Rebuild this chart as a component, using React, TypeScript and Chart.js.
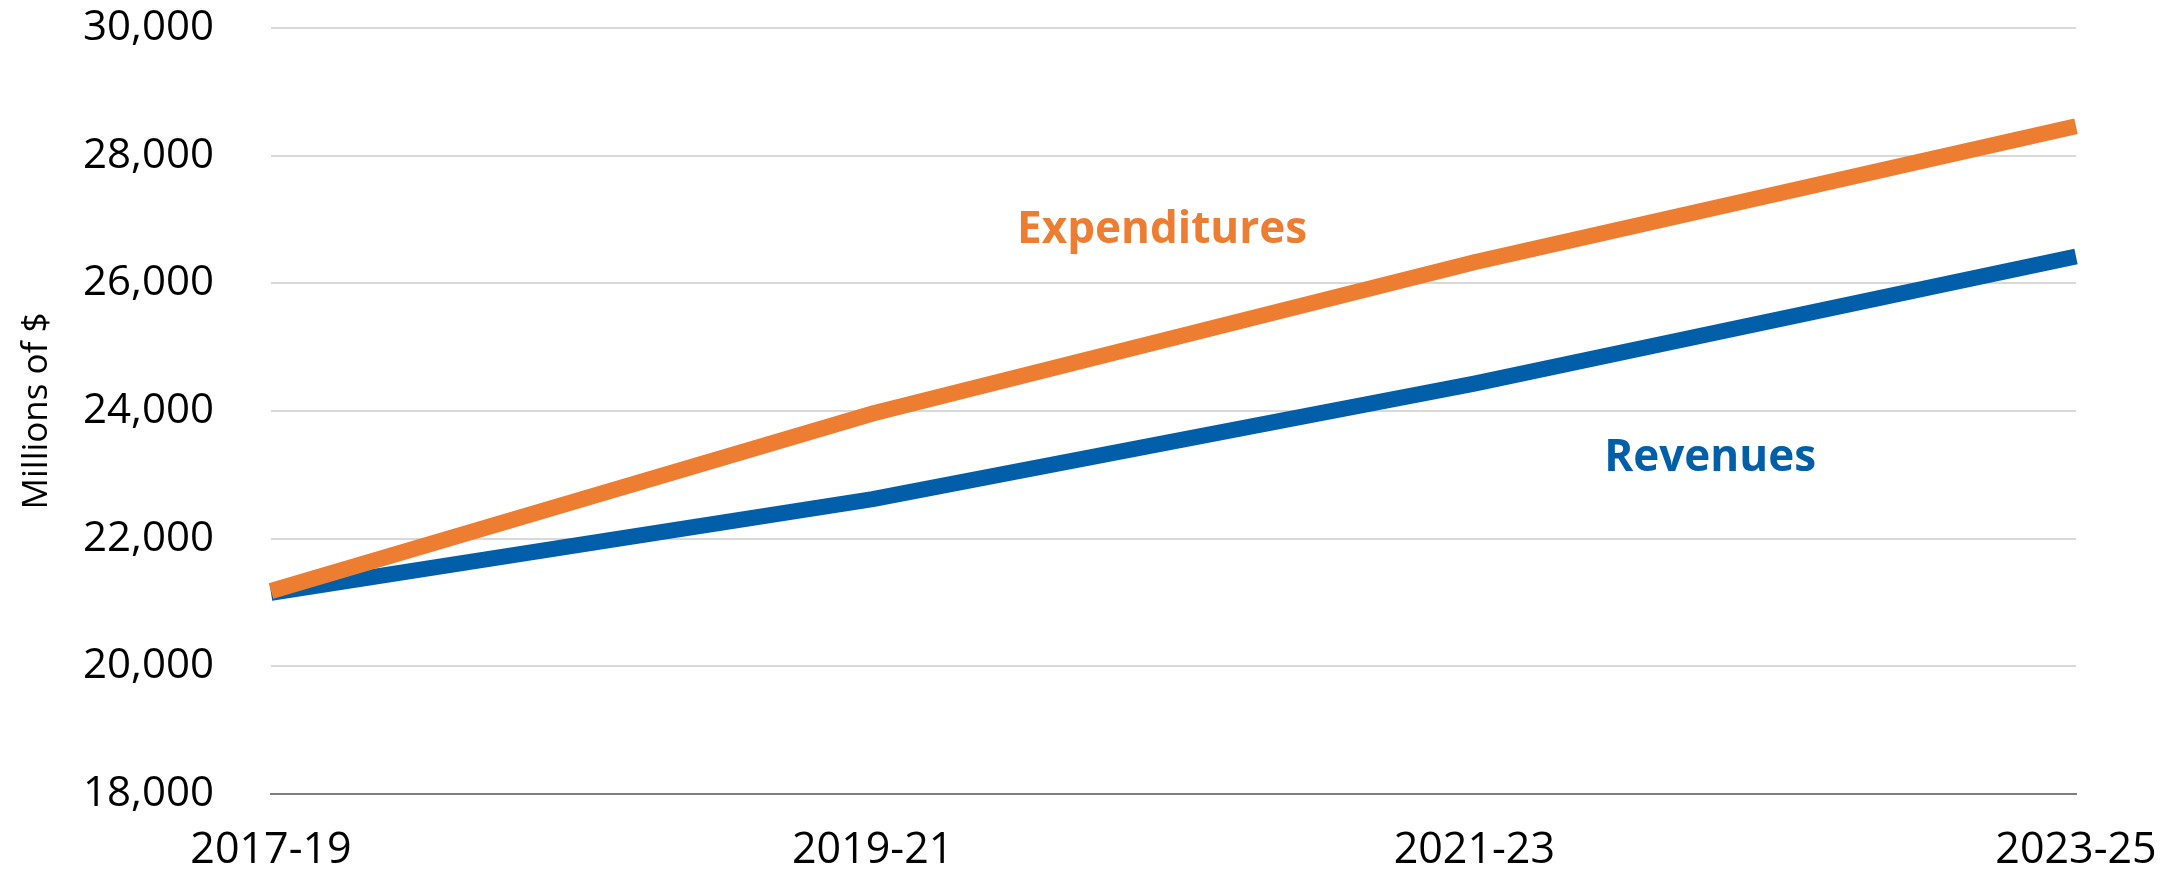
import React, { useEffect, useRef } from "react";
import { Chart, registerables } from "chart.js";

Chart.register(...registerables);

const categories = ["2017-19", "2019-21", "2021-23", "2023-25"];
const expenditures = [21180, 23960, 26330, 28460];
const revenues = [21150, 22620, 24430, 26420];
const yTicks = [18000, 20000, 22000, 24000, 26000, 28000, 30000];

const seriesLabels = [
  { text: "Expenditures", xIndex: 1.481, yValue: 26627, color: "#ED7D31" },
  { text: "Revenues", xIndex: 2.392, yValue: 23067, color: "#005FA8" },
];

const FONT = "'Open Sans', 'Noto Sans', sans-serif";

const labelPlugin = {
  id: "seriesLabels",
  afterDatasetsDraw(chart: any) {
    const { ctx, scales } = chart;
    ctx.save();
    ctx.font = `bold 44px ${FONT}`;
    ctx.textAlign = "center";
    ctx.textBaseline = "alphabetic";
    for (const l of seriesLabels) {
      ctx.fillStyle = l.color;
      ctx.fillText(l.text, scales.x.getPixelForValue(l.xIndex), scales.y.getPixelForValue(l.yValue));
    }
    ctx.restore();
  },
};

export default function App() {
  const ref = useRef<HTMLCanvasElement | null>(null);
  useEffect(() => {
    document.body.style.margin = "0";
    const chart = new Chart(ref.current as HTMLCanvasElement, {
      type: "line",
      data: {
        labels: categories,
        datasets: [
          {
            label: "Expenditures",
            data: expenditures,
            borderColor: "#ED7D31",
            backgroundColor: "#ED7D31",
            borderWidth: 16,
            pointRadius: 0,
            tension: 0,
          },
          {
            label: "Revenues",
            data: revenues,
            borderColor: "#005FA8",
            backgroundColor: "#005FA8",
            borderWidth: 16,
            pointRadius: 0,
            tension: 0,
          },
        ],
      },
      options: {
        animation: false,
        responsive: false,
        devicePixelRatio: 1,
        layout: { padding: { left: 0, right: 107, top: 28, bottom: 0 } },
        plugins: { legend: { display: false }, tooltip: { enabled: false } },
        scales: {
          x: {
            type: "category",
            offset: false,
            grid: { display: false, drawTicks: false },
            border: { display: true, color: "#7F7F7F", width: 2 },
            ticks: {
              color: "#000",
              font: { family: FONT, size: 43 },
              padding: 31,
              maxRotation: 0,
              autoSkip: false,
            },
            afterFit(scale: any) {
              scale.height = 80;
              scale.paddingLeft = 0;
              scale.paddingRight = 0;
            },
          },
          y: {
            min: 18000,
            max: 30000,
            afterBuildTicks(scale: any) {
              scale.ticks = yTicks.map((v) => ({ value: v }));
            },
            grid: { color: "#D9D9D9", lineWidth: 2, drawTicks: false },
            border: { display: false },
            ticks: {
              color: "#000",
              font: { family: FONT, size: 42 },
              padding: 57,
              callback: (v: any) => Number(v).toLocaleString("en-US"),
            },
            title: {
              display: true,
              text: "Millions of $",
              color: "#000",
              font: { family: FONT, size: 35 },
              padding: { top: 16, bottom: 0 },
            },
            afterFit(scale: any) {
              scale.width = 271;
              scale.paddingTop = 0;
              scale.paddingBottom = 0;
            },
          },
        },
      },
      plugins: [labelPlugin],
    });
    return () => chart.destroy();
  }, []);
  return (
    <div style={{ position: "absolute", left: 0, top: 0, width: 2183, height: 874, background: "#fff" }}>
      <canvas ref={ref} width={2183} height={874} />
    </div>
  );
}
